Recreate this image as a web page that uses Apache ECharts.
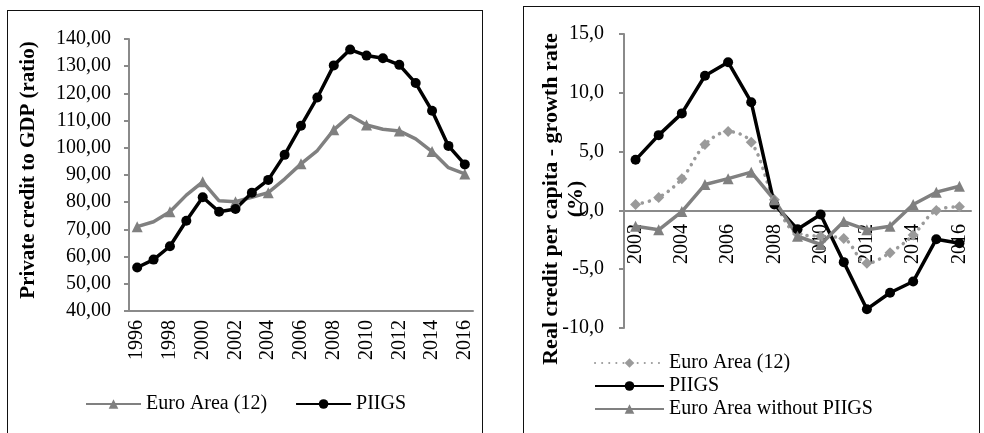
<!DOCTYPE html>
<html>
<head>
<meta charset="utf-8">
<script src="https://cdn.jsdelivr.net/npm/echarts@6/dist/echarts.min.js"></script>
<style>
  html, body { margin:0; padding:0; width:984px; height:433px; overflow:hidden; background:#fff; }
  .box { position:absolute; border:1.5px solid #111; box-sizing:border-box; }
  .chart { position:absolute; top:0; height:433px; }
</style>
</head>
<body>
<div class="box" style="left:7px; top:10px; width:476px; height:440px;"></div>
<div class="box" style="left:523px; top:6px; width:457px; height:440px;"></div>
<div id="c1" class="chart" style="left:0; width:490px;"></div>
<div id="c2" class="chart" style="left:490px; width:494px;"></div>
<script>
// ---- Left chart data ----
const years1 = ['1996','1997','1998','1999','2000','2001','2002','2003','2004','2005','2006',
                '2007','2008','2009','2010','2011','2012','2013','2014','2015','2016'];
const euroArea1 = [71.0, 72.8, 76.5, 82.6, 87.5, 80.5, 80.2, 81.8, 83.5, 88.5, 94.1,
                   99.0, 106.6, 111.9, 108.4, 106.8, 106.2, 103.3, 98.6, 92.7, 90.4];
const piigs1 = [56.0, 58.9, 63.8, 73.2, 81.8, 76.5, 77.5, 83.5, 88.2, 97.4, 108.1,
                118.5, 130.3, 136.1, 133.9, 132.9, 130.5, 123.8, 113.6, 100.7, 93.9];
const leftTitle = 'Private credit to GDP (ratio)';

// ---- Right chart data ----
const years2 = ['2002','2003','2004','2005','2006','2007','2008','2009','2010','2011',
                '2012','2013','2014','2015','2016'];
const euroArea2 = [0.5, 1.1, 2.7, 5.6, 6.7, 5.8, 0.9, -2.0, -2.2, -2.4, -4.5, -3.6, -2.1, 0.0, 0.3];
const piigs2 = [4.3, 6.4, 8.25, 11.45, 12.6, 9.2, 0.5, -1.6, -0.35, -4.4, -8.4, -7.0, -6.05, -2.45, -2.8];
const euroExPiigs2 = [-1.35, -1.65, -0.1, 2.2, 2.7, 3.25, 0.9, -2.2, -2.9, -0.95, -1.65, -1.35, 0.5, 1.55, 2.05];
const rightTitle = 'Real credit per capita - growth rate\n(%)';

const FONT = 'Liberation Serif, Times New Roman, serif';
const AX = '#8a8a8a';
const comma = d => v => v.toFixed(d).replace('.', ',');

const c1 = echarts.init(document.getElementById('c1'), null, {renderer:'canvas'});
c1.setOption({
  animation:false,
  textStyle:{fontFamily:FONT},
  grid:{left:129, top:39, width:344, height:272},
  legend:{
    left:80, top:389, itemWidth:55, itemHeight:12, itemGap:28,
    textStyle:{fontFamily:FONT, fontSize:20, color:'#000'},
    data:['Euro Area (12)','PIIGS']
  },
  xAxis:{
    type:'category', data:years1, boundaryGap:true,
    axisLine:{lineStyle:{color:AX, width:2}},
    axisTick:{interval:1, length:5, lineStyle:{color:AX, width:2}},
    axisLabel:{interval:1, rotate:90, margin:9, color:'#000', fontFamily:FONT, fontSize:20}
  },
  yAxis:{
    type:'value', min:40, max:140, interval:10,
    splitLine:{show:false},
    axisLine:{show:true, lineStyle:{color:AX, width:2}},
    axisTick:{show:true, length:5, lineStyle:{color:AX, width:2}},
    axisLabel:{formatter:comma(2), margin:18, color:'#000', fontFamily:FONT, fontSize:20}
  },
  graphic:[{
    type:'text', x:29, y:170, rotation:Math.PI/2,
    style:{text:leftTitle, font:'bold 21px ' + FONT, fill:'#000', textAlign:'center', textVerticalAlign:'middle'}
  }],
  series:[
    {name:'Euro Area (12)', type:'line', data:euroArea1, symbol:'triangle', symbolSize:11,
     lineStyle:{color:'#808080', width:3.5}, itemStyle:{color:'#808080'}},
    {name:'PIIGS', type:'line', data:piigs1, symbol:'circle', symbolSize:10,
     lineStyle:{color:'#000', width:3.5}, itemStyle:{color:'#000'}}
  ]
});

const c2 = echarts.init(document.getElementById('c2'), null, {renderer:'canvas'});
c2.setOption({
  animation:false,
  textStyle:{fontFamily:FONT},
  grid:{left:134, top:34, width:347, height:294},
  legend:{
    orient:'vertical', left:99, top:348, itemWidth:69, itemHeight:12, itemGap:3,
    textStyle:{fontFamily:FONT, fontSize:20, lineHeight:20, color:'#000'},
    data:['Euro Area (12)','PIIGS','Euro Area without PIIGS']
  },
  xAxis:{
    type:'category', data:years2, boundaryGap:true,
    axisLine:{onZero:true, lineStyle:{color:AX, width:2}},
    axisTick:{interval:1, length:5, lineStyle:{color:AX, width:2}},
    axisLabel:{interval:1, rotate:90, margin:-104, color:'#000', fontFamily:FONT, fontSize:20}
  },
  yAxis:{
    type:'value', min:-10, max:15, interval:5,
    splitLine:{show:false},
    axisLine:{show:true, lineStyle:{color:AX, width:2}},
    axisTick:{show:true, length:5, lineStyle:{color:AX, width:2}},
    axisLabel:{formatter:comma(1), margin:20, color:'#000', fontFamily:FONT, fontSize:20}
  },
  graphic:[{
    type:'text', x:74, y:199, rotation:Math.PI/2,
    style:{text:rightTitle, font:'bold 22px ' + FONT, lineHeight:25, fill:'#000', textAlign:'center', textVerticalAlign:'middle'}
  }],
  series:[
    {name:'Euro Area (12)', type:'line', data:euroArea2, symbol:'diamond', symbolSize:11, smooth:0.35,
     lineStyle:{color:'#9a9a9a', width:3.5, type:[0.1, 7], cap:'round'}, itemStyle:{color:'#9a9a9a'}},
    {name:'PIIGS', type:'line', data:piigs2, symbol:'circle', symbolSize:10,
     lineStyle:{color:'#000', width:3.5}, itemStyle:{color:'#000'}},
    {name:'Euro Area without PIIGS', type:'line', data:euroExPiigs2, symbol:'triangle', symbolSize:11,
     lineStyle:{color:'#808080', width:3.5}, itemStyle:{color:'#808080'}}
  ]
});
</script>
</body>
</html>
